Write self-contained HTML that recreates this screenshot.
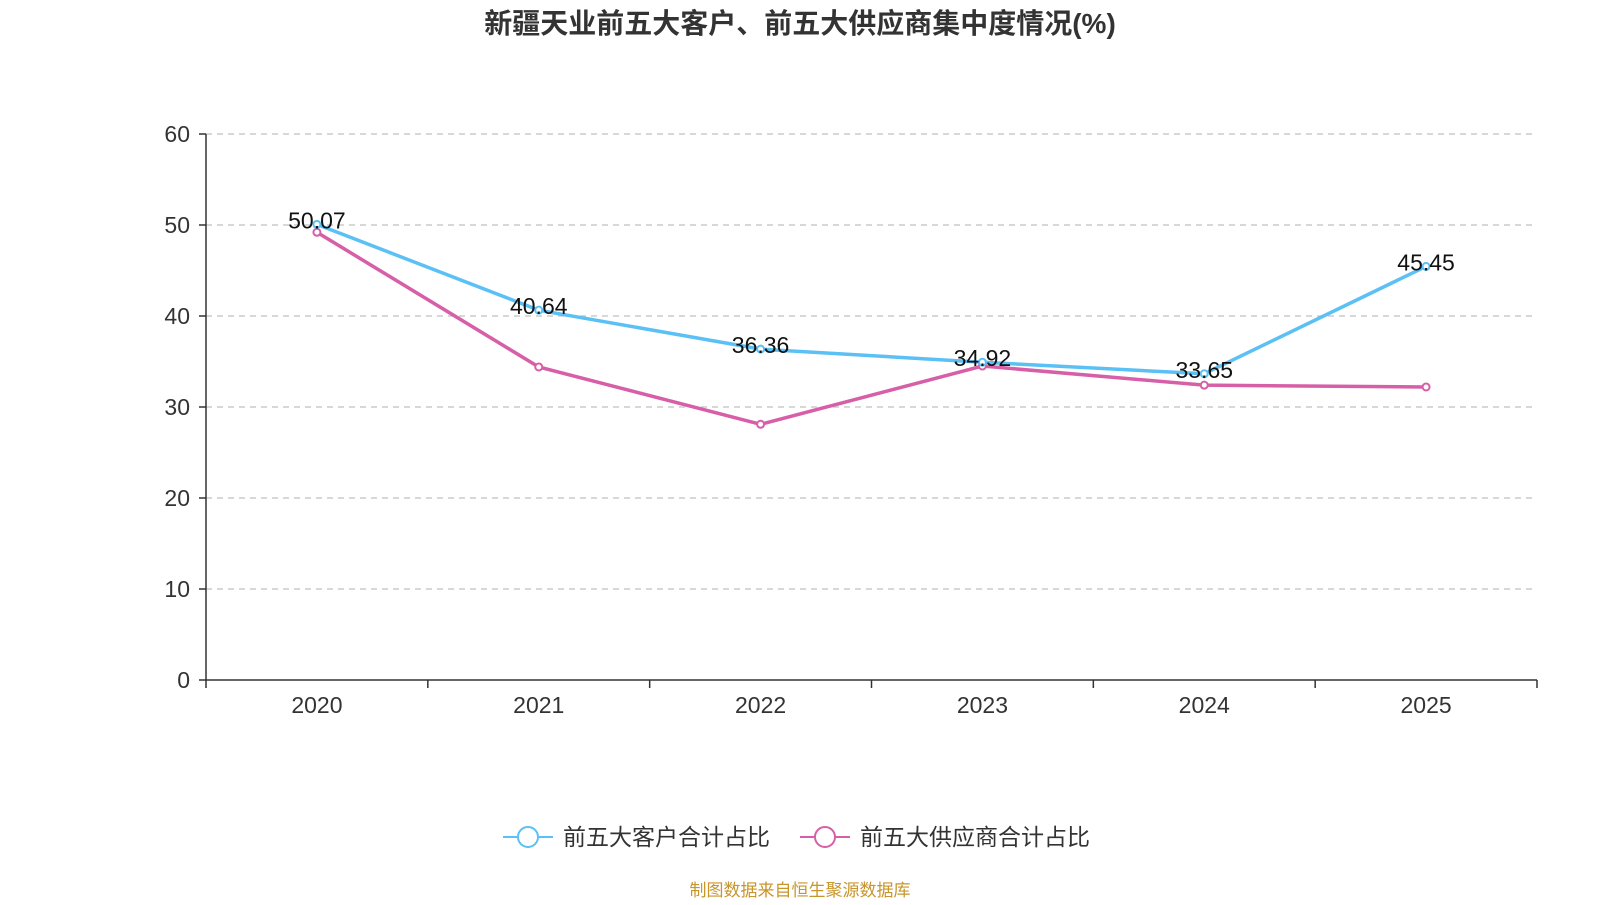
<!DOCTYPE html>
<html><head><meta charset="utf-8"><style>
body{margin:0;background:#fff;}
svg text{font-family:"Liberation Sans","Noto Sans CJK SC",sans-serif;}
</style></head><body>
<svg id="chart" width="1600" height="900" xmlns="http://www.w3.org/2000/svg">
<text x="800" y="33" text-anchor="middle" font-size="28" font-weight="bold" fill="#333">新疆天业前五大客户、前五大供应商集中度情况(%)</text>
<g id="grid"></g><g id="axes"></g><g id="series"></g>
<g>
<g>
<line x1="503" y1="837" x2="553" y2="837" stroke="#5bc0f5" stroke-width="2"/>
<circle cx="528" cy="837" r="10" fill="#fff" stroke="#5bc0f5" stroke-width="2"/>
<text x="563" y="845" font-size="23" fill="#333">前五大客户合计占比</text></g>
<g>
<line x1="800" y1="837" x2="850" y2="837" stroke="#d65fa8" stroke-width="2"/>
<circle cx="825" cy="837" r="10" fill="#fff" stroke="#d65fa8" stroke-width="2"/>
<text x="860" y="845" font-size="23" fill="#333">前五大供应商合计占比</text></g>
</g>
<text x="800" y="896" text-anchor="middle" font-size="17" fill="#c8952a">制图数据来自恒生聚源数据库</text>
</svg>
<script>
const categories=['2020','2021','2022','2023','2024','2025'];
const customers=[50.07,40.64,36.36,34.92,33.65,45.45];
const suppliers=[49.2,34.4,28.1,34.5,32.4,32.2];
const yTicks=[0,10,20,30,40,50,60];
const NS='http://www.w3.org/2000/svg';
const L=206,R=1537,T=134,B=680;
const step=(R-L)/categories.length;
const x=i=>L+step*(i+0.5);
const y=v=>B-(v/60)*(B-T);
function mk(tag,attrs,parent,txt){const e=document.createElementNS(NS,tag);for(const k in attrs)e.setAttribute(k,attrs[k]);if(txt!==undefined)e.textContent=txt;parent.appendChild(e);return e;}
const grid=document.getElementById('grid'),axes=document.getElementById('axes'),ser=document.getElementById('series');
yTicks.forEach(t=>{
 if(t>0){const g=mk('line',{x1:L,x2:R,y1:y(t),y2:y(t),stroke:'#ccc','stroke-dasharray':'6,5','stroke-width':1.5},grid);
 
 }
 const tk=mk('line',{x1:L-7,x2:L,y1:y(t),y2:y(t),stroke:'#333','stroke-width':1.5},axes);
 
 
 const lb=mk('text',{x:L-16,y:y(t)+8,'text-anchor':'end','font-size':23,fill:'#333'},axes,t);
 
 
});
const ya=mk('line',{x1:L,x2:L,y1:T,y2:B,stroke:'#333','stroke-width':1.5},axes);


const xa=mk('line',{x1:L,x2:R,y1:B,y2:B,stroke:'#333','stroke-width':1.5},axes);


for(let i=0;i<=categories.length;i++){const t=mk('line',{x1:L+step*i,x2:L+step*i,y1:B,y2:B+8,stroke:'#333','stroke-width':1.5},axes);
 
 }
categories.forEach((c,i)=>{const t=mk('text',{x:x(i),y:B+33,'text-anchor':'middle','font-size':23,fill:'#333'},axes,c);
 
 });
function drawSeries(vals,color,name,labels){
 const p=mk('polyline',{points:vals.map((v,i)=>x(i)+','+y(v)).join(' '),fill:'none',stroke:color,'stroke-width':3.5},ser);
 
 
 vals.forEach((v,i)=>{const c=mk('circle',{cx:x(i),cy:y(v),r:3.5,fill:'#fff',stroke:color,'stroke-width':2},ser);
  
  
  if(labels){const t=mk('text',{x:x(i),y:y(v)+4,'text-anchor':'middle','font-size':23,fill:'#111'},ser,v.toFixed(2));
  
  }
 });
}
drawSeries(suppliers,'#d65fa8','suppliers',false);
drawSeries(customers,'#5bc0f5','customers',true);
</script>
</body></html>
